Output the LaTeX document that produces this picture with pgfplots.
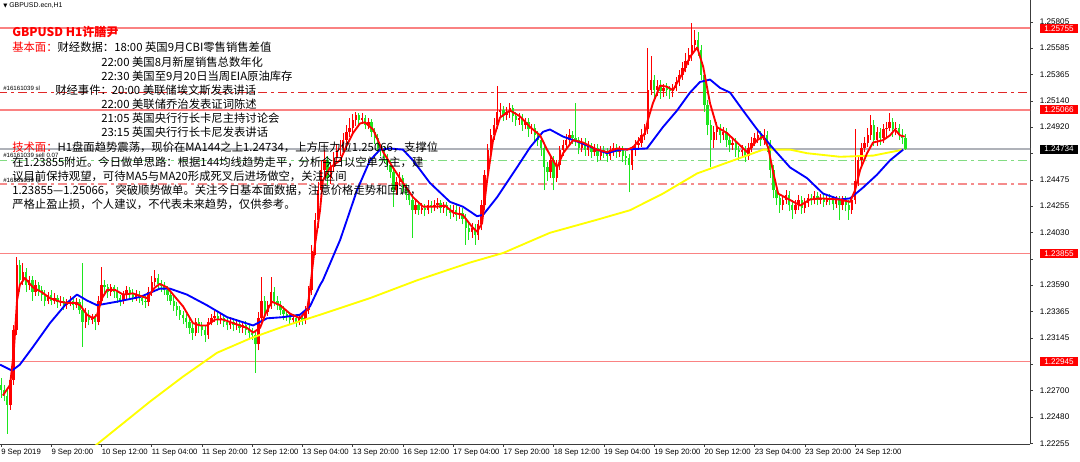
\documentclass[border=0pt]{standalone}
\usepackage{pgfplots}
\pgfplotsset{compat=1.18}
\usepackage{pgfplotstable}
\usepackage{fontspec}
\setmainfont{Liberation Sans}
\newfontfamily\cjk{Noto Sans CJK SC}
\newfontfamily\dv{DejaVu Sans}
\definecolor{upc}{RGB}{255,0,0}
\definecolor{dnc}{RGB}{30,230,30}
\definecolor{lvl}{RGB}{250,130,130}
\definecolor{cur}{RGB}{175,178,185}
\definecolor{slc}{RGB}{225,40,40}
\definecolor{entc}{RGB}{130,220,130}
\definecolor{tpc}{RGB}{245,140,140}
\definecolor{ma5}{RGB}{255,0,0}
\definecolor{ma20}{RGB}{0,0,255}
\definecolor{ma144}{RGB}{255,255,0}
\definecolor{axc}{RGB}{60,60,60}

\pgfplotstableread{
i o h l c
0 1.2275 1.2281 1.2264 1.2271
1 1.2271 1.2275 1.2261 1.2266
2 1.2266 1.2271 1.2234 1.2258
3 1.2258 1.2283 1.2254 1.2279
4 1.2279 1.2325 1.2275 1.2321
5 1.2321 1.2383 1.2317 1.2376
6 1.2376 1.2380 1.2353 1.2363
7 1.2363 1.2378 1.2359 1.2370
8 1.2370 1.2373 1.2353 1.2359
9 1.2359 1.2367 1.2355 1.2363
10 1.2363 1.2367 1.2346 1.2353
11 1.2353 1.2363 1.2350 1.2359
12 1.2359 1.2362 1.2350 1.2355
13 1.2355 1.2358 1.2346 1.2351
14 1.2351 1.2355 1.2341 1.2346
15 1.2346 1.2353 1.2343 1.2351
16 1.2351 1.2355 1.2342 1.2346
17 1.2346 1.2352 1.2343 1.2348
18 1.2348 1.2351 1.2340 1.2345
19 1.2345 1.2350 1.2341 1.2346
20 1.2346 1.2349 1.2338 1.2342
21 1.2342 1.2347 1.2339 1.2344
22 1.2344 1.2350 1.2341 1.2346
23 1.2346 1.2348 1.2338 1.2342
24 1.2342 1.2348 1.2340 1.2345
25 1.2345 1.2347 1.2335 1.2338
26 1.2338 1.2378 1.2307 1.2328
27 1.2328 1.2340 1.2323 1.2334
28 1.2334 1.2338 1.2325 1.2330
29 1.2330 1.2335 1.2326 1.2331
30 1.2331 1.2335 1.2321 1.2328
31 1.2328 1.2350 1.2325 1.2346
32 1.2346 1.2374 1.2343 1.2359
33 1.2359 1.2363 1.2351 1.2357
34 1.2357 1.2360 1.2348 1.2353
35 1.2353 1.2360 1.2350 1.2357
36 1.2357 1.2359 1.2348 1.2353
37 1.2353 1.2357 1.2344 1.2348
38 1.2348 1.2351 1.2341 1.2346
39 1.2346 1.2354 1.2343 1.2351
40 1.2351 1.2358 1.2347 1.2355
41 1.2355 1.2357 1.2348 1.2352
42 1.2352 1.2356 1.2345 1.2349
43 1.2349 1.2355 1.2346 1.2351
44 1.2351 1.2354 1.2344 1.2348
45 1.2348 1.2351 1.2342 1.2346
46 1.2346 1.2350 1.2340 1.2345
47 1.2345 1.2357 1.2341 1.2353
48 1.2353 1.2367 1.2350 1.2362
49 1.2362 1.2372 1.2358 1.2365
50 1.2365 1.2368 1.2355 1.2360
51 1.2360 1.2363 1.2353 1.2358
52 1.2358 1.2362 1.2351 1.2355
53 1.2355 1.2358 1.2346 1.2351
54 1.2351 1.2354 1.2342 1.2346
55 1.2346 1.2350 1.2337 1.2341
56 1.2341 1.2345 1.2333 1.2338
57 1.2338 1.2341 1.2330 1.2334
58 1.2334 1.2337 1.2326 1.2331
59 1.2331 1.2335 1.2323 1.2328
60 1.2328 1.2331 1.2318 1.2323
61 1.2323 1.2326 1.2313 1.2319
62 1.2319 1.2331 1.2316 1.2328
63 1.2328 1.2331 1.2319 1.2325
64 1.2325 1.2328 1.2316 1.2321
65 1.2321 1.2325 1.2311 1.2317
66 1.2317 1.2331 1.2314 1.2328
67 1.2328 1.2335 1.2325 1.2331
68 1.2331 1.2337 1.2328 1.2333
69 1.2333 1.2336 1.2325 1.2330
70 1.2330 1.2335 1.2326 1.2331
71 1.2331 1.2335 1.2324 1.2328
72 1.2328 1.2331 1.2321 1.2325
73 1.2325 1.2332 1.2322 1.2328
74 1.2328 1.2331 1.2320 1.2325
75 1.2325 1.2330 1.2321 1.2326
76 1.2326 1.2330 1.2319 1.2323
77 1.2323 1.2329 1.2319 1.2325
78 1.2325 1.2329 1.2317 1.2321
79 1.2321 1.2325 1.2314 1.2319
80 1.2319 1.2323 1.2313 1.2317
81 1.2317 1.2321 1.2285 1.2309
82 1.2309 1.2336 1.2304 1.2331
83 1.2331 1.2366 1.2328 1.2346
84 1.2346 1.2350 1.2331 1.2336
85 1.2336 1.2346 1.2333 1.2342
86 1.2342 1.2366 1.2339 1.2353
87 1.2353 1.2357 1.2341 1.2346
88 1.2346 1.2350 1.2338 1.2342
89 1.2342 1.2346 1.2334 1.2338
90 1.2338 1.2341 1.2330 1.2335
91 1.2335 1.2338 1.2329 1.2333
92 1.2333 1.2336 1.2325 1.2330
93 1.2330 1.2335 1.2326 1.2331
94 1.2331 1.2335 1.2324 1.2328
95 1.2328 1.2335 1.2325 1.2331
96 1.2331 1.2335 1.2325 1.2330
97 1.2330 1.2341 1.2326 1.2338
98 1.2338 1.2358 1.2335 1.2355
99 1.2355 1.2393 1.2351 1.2388
100 1.2388 1.2420 1.2384 1.2414
101 1.2414 1.2446 1.2407 1.2439
102 1.2439 1.2464 1.2432 1.2456
103 1.2456 1.2473 1.2451 1.2464
104 1.2464 1.2468 1.2443 1.2449
105 1.2449 1.2463 1.2444 1.2458
106 1.2458 1.2471 1.2454 1.2466
107 1.2466 1.2478 1.2462 1.2473
108 1.2473 1.2481 1.2468 1.2474
109 1.2474 1.2487 1.2470 1.2481
110 1.2481 1.2494 1.2477 1.2488
111 1.2488 1.2500 1.2484 1.2491
112 1.2491 1.2503 1.2487 1.2498
113 1.2498 1.2505 1.2493 1.2502
114 1.2502 1.2504 1.2492 1.2498
115 1.2498 1.2504 1.2495 1.2500
116 1.2500 1.2502 1.2490 1.2494
117 1.2494 1.2500 1.2490 1.2496
118 1.2496 1.2499 1.2484 1.2488
119 1.2488 1.2491 1.2478 1.2483
120 1.2483 1.2486 1.2469 1.2474
121 1.2474 1.2478 1.2468 1.2473
122 1.2473 1.2476 1.2462 1.2466
123 1.2466 1.2469 1.2456 1.2460
124 1.2460 1.2464 1.2449 1.2454
125 1.2454 1.2458 1.2425 1.2439
126 1.2439 1.2450 1.2435 1.2446
127 1.2446 1.2454 1.2442 1.2449
128 1.2449 1.2452 1.2436 1.2441
129 1.2441 1.2444 1.2431 1.2435
130 1.2435 1.2439 1.2426 1.2431
131 1.2431 1.2434 1.2399 1.2422
132 1.2422 1.2431 1.2419 1.2426
133 1.2426 1.2430 1.2418 1.2422
134 1.2422 1.2428 1.2419 1.2424
135 1.2424 1.2427 1.2417 1.2422
136 1.2422 1.2431 1.2419 1.2426
137 1.2426 1.2430 1.2420 1.2425
138 1.2425 1.2431 1.2421 1.2426
139 1.2426 1.2432 1.2423 1.2428
140 1.2428 1.2431 1.2420 1.2424
141 1.2424 1.2429 1.2420 1.2426
142 1.2426 1.2429 1.2417 1.2422
143 1.2422 1.2426 1.2415 1.2420
144 1.2420 1.2426 1.2416 1.2422
145 1.2422 1.2426 1.2413 1.2418
146 1.2418 1.2425 1.2415 1.2420
147 1.2420 1.2424 1.2410 1.2415
148 1.2415 1.2419 1.2393 1.2407
149 1.2407 1.2412 1.2397 1.2404
150 1.2404 1.2411 1.2399 1.2407
151 1.2407 1.2410 1.2393 1.2401
152 1.2401 1.2414 1.2397 1.2410
153 1.2410 1.2431 1.2405 1.2426
154 1.2426 1.2456 1.2422 1.2452
155 1.2452 1.2478 1.2447 1.2473
156 1.2473 1.2490 1.2468 1.2485
157 1.2485 1.2500 1.2481 1.2494
158 1.2494 1.2527 1.2490 1.2505
159 1.2505 1.2512 1.2500 1.2506
160 1.2506 1.2510 1.2497 1.2502
161 1.2502 1.2509 1.2498 1.2505
162 1.2505 1.2512 1.2500 1.2508
163 1.2508 1.2511 1.2496 1.2501
164 1.2501 1.2505 1.2493 1.2498
165 1.2498 1.2504 1.2494 1.2500
166 1.2500 1.2503 1.2489 1.2494
167 1.2494 1.2500 1.2490 1.2496
168 1.2496 1.2500 1.2484 1.2490
169 1.2490 1.2495 1.2486 1.2491
170 1.2491 1.2495 1.2480 1.2485
171 1.2485 1.2489 1.2476 1.2481
172 1.2481 1.2484 1.2468 1.2474
173 1.2474 1.2478 1.2439 1.2458
174 1.2458 1.2463 1.2447 1.2454
175 1.2454 1.2468 1.2449 1.2464
176 1.2464 1.2468 1.2439 1.2449
177 1.2449 1.2464 1.2446 1.2460
178 1.2460 1.2476 1.2456 1.2473
179 1.2473 1.2481 1.2468 1.2477
180 1.2477 1.2486 1.2473 1.2481
181 1.2481 1.2490 1.2476 1.2485
182 1.2485 1.2489 1.2478 1.2483
183 1.2483 1.2512 1.2476 1.2481
184 1.2481 1.2484 1.2469 1.2474
185 1.2474 1.2483 1.2471 1.2479
186 1.2479 1.2483 1.2468 1.2473
187 1.2473 1.2480 1.2468 1.2476
188 1.2476 1.2479 1.2466 1.2471
189 1.2471 1.2478 1.2468 1.2474
190 1.2474 1.2478 1.2463 1.2468
191 1.2468 1.2476 1.2464 1.2473
192 1.2473 1.2476 1.2466 1.2471
193 1.2471 1.2474 1.2463 1.2468
194 1.2468 1.2476 1.2464 1.2473
195 1.2473 1.2479 1.2468 1.2474
196 1.2474 1.2478 1.2466 1.2471
197 1.2471 1.2476 1.2467 1.2473
198 1.2473 1.2476 1.2463 1.2468
199 1.2468 1.2472 1.2460 1.2466
200 1.2466 1.2469 1.2437 1.2460
201 1.2460 1.2476 1.2456 1.2473
202 1.2473 1.2481 1.2468 1.2477
203 1.2477 1.2484 1.2473 1.2479
204 1.2479 1.2490 1.2475 1.2485
205 1.2485 1.2495 1.2481 1.2490
206 1.2490 1.2559 1.2486 1.2523
207 1.2523 1.2552 1.2519 1.2532
208 1.2532 1.2536 1.2516 1.2523
209 1.2523 1.2532 1.2518 1.2527
210 1.2527 1.2532 1.2516 1.2522
211 1.2522 1.2528 1.2517 1.2525
212 1.2525 1.2529 1.2518 1.2523
213 1.2523 1.2527 1.2516 1.2522
214 1.2522 1.2528 1.2517 1.2525
215 1.2525 1.2534 1.2522 1.2530
216 1.2530 1.2540 1.2527 1.2536
217 1.2536 1.2547 1.2532 1.2542
218 1.2542 1.2554 1.2538 1.2548
219 1.2548 1.2559 1.2544 1.2553
220 1.2553 1.2580 1.2548 1.2561
221 1.2561 1.2574 1.2557 1.2565
222 1.2565 1.2572 1.2552 1.2557
223 1.2557 1.2561 1.2532 1.2536
224 1.2536 1.2540 1.2505 1.2511
225 1.2511 1.2515 1.2485 1.2494
226 1.2494 1.2498 1.2458 1.2481
227 1.2481 1.2493 1.2474 1.2488
228 1.2488 1.2496 1.2481 1.2491
229 1.2491 1.2495 1.2479 1.2485
230 1.2485 1.2492 1.2481 1.2488
231 1.2488 1.2491 1.2475 1.2481
232 1.2481 1.2485 1.2471 1.2477
233 1.2477 1.2484 1.2473 1.2479
234 1.2479 1.2483 1.2467 1.2473
235 1.2473 1.2476 1.2464 1.2471
236 1.2471 1.2477 1.2466 1.2473
237 1.2473 1.2476 1.2463 1.2468
238 1.2468 1.2479 1.2464 1.2474
239 1.2474 1.2484 1.2471 1.2479
240 1.2479 1.2487 1.2476 1.2483
241 1.2483 1.2490 1.2479 1.2485
242 1.2485 1.2489 1.2476 1.2481
243 1.2481 1.2490 1.2477 1.2485
244 1.2485 1.2489 1.2471 1.2477
245 1.2477 1.2481 1.2449 1.2456
246 1.2456 1.2460 1.2432 1.2439
247 1.2439 1.2443 1.2426 1.2432
248 1.2432 1.2436 1.2420 1.2426
249 1.2426 1.2435 1.2422 1.2431
250 1.2431 1.2439 1.2427 1.2435
251 1.2435 1.2438 1.2421 1.2426
252 1.2426 1.2431 1.2415 1.2422
253 1.2422 1.2431 1.2419 1.2426
254 1.2426 1.2435 1.2422 1.2431
255 1.2431 1.2434 1.2419 1.2424
256 1.2424 1.2432 1.2420 1.2428
257 1.2428 1.2436 1.2425 1.2432
258 1.2432 1.2436 1.2426 1.2431
259 1.2431 1.2438 1.2427 1.2434
260 1.2434 1.2437 1.2426 1.2431
261 1.2431 1.2436 1.2427 1.2432
262 1.2432 1.2436 1.2425 1.2429
263 1.2429 1.2436 1.2426 1.2432
264 1.2432 1.2436 1.2426 1.2431
265 1.2431 1.2434 1.2422 1.2427
266 1.2427 1.2434 1.2424 1.2431
267 1.2431 1.2434 1.2414 1.2426
268 1.2426 1.2434 1.2422 1.2431
269 1.2431 1.2434 1.2421 1.2426
270 1.2426 1.2431 1.2414 1.2422
271 1.2422 1.2434 1.2419 1.2431
272 1.2431 1.2490 1.2427 1.2447
273 1.2447 1.2468 1.2442 1.2464
274 1.2464 1.2479 1.2460 1.2474
275 1.2474 1.2484 1.2471 1.2479
276 1.2479 1.2491 1.2475 1.2485
277 1.2485 1.2502 1.2481 1.2494
278 1.2494 1.2498 1.2476 1.2481
279 1.2481 1.2492 1.2476 1.2488
280 1.2488 1.2491 1.2477 1.2483
281 1.2483 1.2495 1.2479 1.2490
282 1.2490 1.2496 1.2484 1.2491
283 1.2491 1.2504 1.2489 1.2496
284 1.2496 1.2500 1.2484 1.2490
285 1.2490 1.2496 1.2485 1.2491
286 1.2491 1.2495 1.2481 1.2485
287 1.2485 1.2490 1.2478 1.2483
288 1.2483 1.2486 1.2473 1.24734
}\ohlc

\begin{document}
\begin{tikzpicture}
\useasboundingbox (0,-12.75pt) rectangle (810pt,333pt);
\begin{axis}[
  at={(0,0)}, anchor=south west,
  scale only axis, width=772.5pt, height=333pt,
  xmin=-0.32, xmax=327.7, ymin=1.22252, ymax=1.2599,
  axis x line*=bottom, axis y line*=right,
  axis line style={axc, line width=0.75pt},
  tick align=outside, major tick length=2.2pt,
  tick style={axc, line width=0.5pt},
  xtick={0,16,32,48,64,80,96,112,128,144,160,176,192,208,224,240,256,272},
  xticklabels={9 Sep 2019,9 Sep 20:00,10 Sep 12:00,11 Sep 04:00,11 Sep 20:00,12 Sep 12:00,13 Sep 04:00,13 Sep 20:00,16 Sep 12:00,17 Sep 04:00,17 Sep 20:00,18 Sep 12:00,19 Sep 04:00,19 Sep 20:00,20 Sep 12:00,23 Sep 04:00,23 Sep 20:00,24 Sep 12:00},
  xticklabel style={font=\fontsize{5.8}{6.5}\selectfont, anchor=north west, inner sep=0pt, xshift=0pt, yshift=-1.5pt},
  ytick={1.22255,1.22480,1.22700,1.22920,1.23145,1.23365,1.23590,1.23810,1.24030,1.24255,1.24475,1.24700,1.24920,1.25140,1.25365,1.25585,1.25805},
  yticklabels={1.22255,1.22480,1.22700,,1.23145,1.23365,1.23590,,1.24030,1.24255,1.24475,,1.24920,1.25140,1.25365,1.25585,1.25805},
  yticklabel style={font=\fontsize{6.1}{6.5}\selectfont, anchor=west, inner sep=0pt, xshift=5pt},
  clip=true,
]
% level lines
\addplot[lvl, line width=1.2pt] coordinates {(-1,1.25755) (330,1.25755)};
\addplot[lvl, line width=1.2pt] coordinates {(-1,1.25066) (330,1.25066)};
\addplot[lvl, line width=1.2pt] coordinates {(-1,1.23855) (330,1.23855)};
\addplot[lvl, line width=1.2pt] coordinates {(-1,1.22945) (330,1.22945)};
\addplot[cur, line width=1.1pt] coordinates {(-1,1.24734) (330,1.24734)};
\addplot[slc, line width=0.8pt, dash pattern=on 7pt off 3pt on 2pt off 3pt] coordinates {(-1,1.2521) (330,1.2521)};
\addplot[entc, line width=0.8pt, dash pattern=on 7pt off 3pt on 2pt off 3pt] coordinates {(-1,1.2464) (330,1.2464)};
\addplot[tpc, line width=1.1pt, dash pattern=on 7pt off 3pt on 2pt off 3pt] coordinates {(-1,1.2444) (330,1.2444)};
% candles: rising (red)
\addplot[draw=none, mark=none, restrict y to domain=1.2:1.3,
  error bars/.cd, y dir=plus, y explicit, error mark=none,
  error bar style={draw=upc, line width=0.75pt}]
  table[x=i, y expr={\thisrow{c}<\thisrow{o} ? 0 : \thisrow{l}}, y error plus expr={\thisrow{h}-\thisrow{l}}] {\ohlc};
\addplot[draw=none, mark=none, restrict y to domain=1.2:1.3,
  error bars/.cd, y dir=plus, y explicit, error mark=none,
  error bar style={draw=upc, line width=1.75pt}]
  table[x=i, y expr={\thisrow{c}<\thisrow{o} ? 0 : \thisrow{o}}, y error plus expr={\thisrow{c}-\thisrow{o}}] {\ohlc};
% candles: falling (green)
\addplot[draw=none, mark=none, restrict y to domain=1.2:1.3,
  error bars/.cd, y dir=plus, y explicit, error mark=none,
  error bar style={draw=dnc, line width=0.75pt}]
  table[x=i, y expr={\thisrow{c}<\thisrow{o} ? \thisrow{l} : 0}, y error plus expr={\thisrow{h}-\thisrow{l}}] {\ohlc};
\addplot[draw=none, mark=none, restrict y to domain=1.2:1.3,
  error bars/.cd, y dir=plus, y explicit, error mark=none,
  error bar style={draw=dnc, line width=1.75pt}]
  table[x=i, y expr={\thisrow{c}<\thisrow{o} ? \thisrow{c} : 0}, y error plus expr={\thisrow{o}-\thisrow{c}}] {\ohlc};
% MA144
\addplot[ma144, line width=1.4pt, line join=round] coordinates {(26.8,1.2217)(30.6,1.2225)(47.5,1.2261)(58,1.2282)(68.8,1.2302)(79.3,1.2314)(89.8,1.2324)(101.6,1.2334)(117.5,1.2348)(132.5,1.2363)(149.4,1.2378)(159.9,1.2386)(174.8,1.2403)(189.8,1.2414)(200.3,1.2422)(210.8,1.2436)(221.7,1.2453)(232.2,1.2463)(242.7,1.2473)(251.3,1.2473)(256.7,1.2470)(267.2,1.2467)(277.7,1.2468)(287.3,1.2473)};
% MA20
\addplot[ma20, line width=1.4pt, line join=round] coordinates {(-0.3,1.2292)(3.5,1.2287)(6,1.2292)(10.2,1.2307)(15.6,1.2327)(21,1.2344)(24.2,1.2351)(27.4,1.2346)(30.6,1.2342)(36.9,1.2345)(44.3,1.2349)(50.6,1.2356)(53.8,1.2356)(59.2,1.2351)(65.6,1.2342)(72,1.2332)(80.3,1.2325)(84.7,1.2331)(89.8,1.2332)(95.2,1.2334)(98.4,1.2341)(101.6,1.2359)(102.5,1.2363)(108,1.2397)(113.4,1.2439)(117.5,1.2464)(120.7,1.2473)(123.9,1.2474)(128,1.2473)(131.2,1.2464)(136.6,1.2445)(143,1.2429)(147.1,1.2425)(151.6,1.2417)(153.5,1.2418)(158,1.2433)(164.3,1.2458)(168.5,1.2475)(172.6,1.2488)(174.8,1.2490)(179,1.2484)(184.4,1.2479)(189.8,1.2473)(193,1.2470)(197.1,1.2473)(205.7,1.2474)(210.8,1.2492)(215.3,1.2506)(219.4,1.2521)(222.6,1.2530)(225.8,1.2532)(229,1.2525)(232.2,1.2521)(236.3,1.2506)(240.8,1.2490)(245.9,1.2474)(251.3,1.2458)(256.7,1.2449)(261.8,1.2436)(267.2,1.2431)(270.4,1.2432)(274.5,1.2441)(279,1.2452)(283.1,1.2464)(287.3,1.2473)};
% MA5
\addplot[ma5, line width=1.4pt, line join=round] coordinates {(0.6,1.2266)(2.9,1.2275)(4.1,1.2304)(5.1,1.2346)(6,1.2359)(7.6,1.2365)(10.2,1.2357)(13,1.2353)(15.6,1.2348)(18.8,1.2345)(21,1.2344)(23.6,1.2344)(25.2,1.2342)(27.4,1.2334)(29.3,1.2331)(30.6,1.2334)(32.2,1.2348)(33.8,1.2355)(36.3,1.2355)(38.9,1.2351)(42,1.2352)(46.5,1.2348)(49,1.2357)(50.6,1.2360)(52.9,1.2357)(54.8,1.2351)(58,1.2341)(61.1,1.2327)(63.4,1.2325)(65.6,1.2325)(68.2,1.2330)(70.7,1.2330)(73.9,1.2327)(78.3,1.2323)(80.3,1.2319)(82.5,1.2323)(84.4,1.2336)(86.3,1.2345)(88.9,1.2342)(92,1.2335)(95.2,1.2331)(97.5,1.2338)(98.4,1.2355)(100,1.2393)(101.6,1.2422)(102.5,1.2447)(104.8,1.2458)(108,1.2464)(110.2,1.2477)(112.1,1.2487)(114.3,1.2495)(115.9,1.2496)(118.5,1.2490)(121.7,1.2471)(124.8,1.2458)(128,1.2445)(131.2,1.2433)(134.4,1.2425)(138.9,1.2425)(141.4,1.2426)(144,1.2420)(147.1,1.2418)(150,1.2408)(151.6,1.2404)(153.2,1.2411)(154.8,1.2447)(156.7,1.2481)(158.9,1.2500)(162.1,1.2506)(165.3,1.2501)(168.5,1.2492)(171.7,1.2485)(173.9,1.2473)(177.1,1.2458)(179,1.2470)(182.2,1.2481)(185.4,1.2479)(189.8,1.2473)(193,1.2471)(196.2,1.2474)(199.4,1.2473)(201.3,1.2475)(205.1,1.2487)(206,1.2498)(207.6,1.2512)(209.9,1.2527)(212.1,1.2526)(214,1.2523)(217.2,1.2538)(219.4,1.2551)(221.7,1.2559)(223.6,1.2543)(225.8,1.2512)(228,1.2492)(231.2,1.2487)(234.4,1.2479)(237.6,1.2471)(240.8,1.2481)(242.7,1.2484)(244.3,1.2475)(245.9,1.2454)(247.5,1.2436)(250.3,1.2432)(254.5,1.2426)(257.6,1.2431)(260.8,1.2432)(267.2,1.2431)(270.4,1.2429)(272,1.2439)(273.6,1.2456)(275.8,1.2470)(277.7,1.2479)(280.9,1.2481)(283.1,1.2485)(284.7,1.2490)(286.3,1.2485)(287.8,1.2484)};
\end{axis}
\begin{scope}[x=0.75pt, y=-0.75pt, yshift=333pt]
\tikzset{txt/.style={anchor=west, inner sep=0pt, font=\cjk\fontsize{8.5}{10}\selectfont},
  sm/.style={anchor=west, inner sep=0pt, font=\fontsize{4.6}{5}\selectfont},
  pbox/.style={inner sep=0pt, minimum width=28.5pt, minimum height=6.8pt, text=white, font=\fontsize{6.1}{6.5}\selectfont}}
\node[anchor=west, inner sep=0pt, font=\fontsize{5.2}{6}\selectfont] at (3,6) {{\dv\fontsize{4}{5}\selectfont ▼}\ GBPUSD.ecn,H1};
\node[anchor=west, inner sep=0pt, font=\cjk\bfseries\fontsize{9}{11}\selectfont, text=red] at (12,32) {GBPUSD H1许膳尹};
\node[txt] at (12,47) {\textcolor{red}{基本面：}财经数据：18:00 英国9月CBI零售销售差值};
\node[txt] at (101,62) {22:00 美国8月新屋销售总数年化};
\node[txt] at (101,76) {22:30 美国至9月20日当周EIA原油库存};
\node[sm] at (3,88) {\#16161039 sl};
\node[txt] at (55,90) {财经事件：20:00 美联储埃文斯发表讲话};
\node[txt] at (101,104) {22:00 美联储乔治发表证词陈述};
\node[txt] at (101,118) {21:05 英国央行行长卡尼主持讨论会};
\node[txt] at (101,132) {23:15 英国央行行长卡尼发表讲话};
\node[sm] at (3,155) {\#16161039 sell 0.07};
\node[sm] at (3,181) {\#16161039 tp};
\node[txt] at (12,147) {\textcolor{red}{技术面：}H1盘面趋势震荡，现价在MA144之上1.24734，上方压力位1.25066，支撑位};
\node[txt] at (12,162) {在1.23855附近。今日做单思路：根据144均线趋势走平，分析今日以空单为主，建};
\node[txt] at (12,176) {议目前保持观望，可待MA5与MA20形成死叉后进场做空，关注区间};
\node[txt] at (12,190) {1.23855—1.25066，突破顺势做单。关注今日基本面数据，注意价格走势和回调，};
\node[txt] at (12,204) {严格止盈止损，个人建议，不代表未来趋势，仅供参考。};
\node[pbox, fill=red] at (1059,28.5) {1.25755};
\node[pbox, fill=red] at (1059,109.7) {1.25066};
\node[pbox, fill=black] at (1059,149.2) {1.24734};
\node[pbox, fill=red] at (1059,253.6) {1.23855};
\node[pbox, fill=red] at (1059,361.6) {1.22945};
\end{scope}
\end{tikzpicture}
\end{document}
